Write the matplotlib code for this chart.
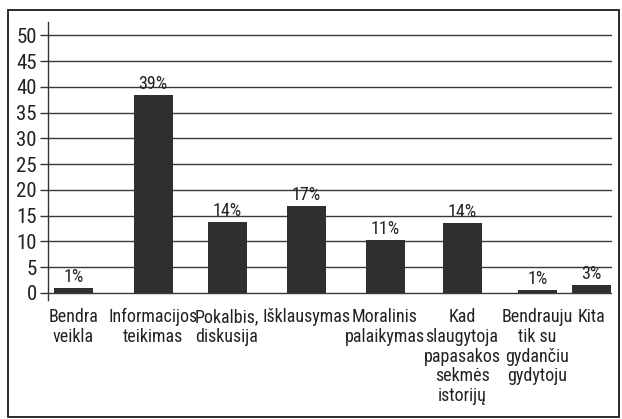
import matplotlib
matplotlib.use("Agg")
import matplotlib.pyplot as plt
from matplotlib.patches import Rectangle
from matplotlib import font_manager

categories = ["Bendra\nveikla", "Informacijos\nteikimas", "Pokalbis,\ndiskusija",
              "Išklausymas", "Moralinis\npalaikymas",
              "Kad\nslaugytoja\npapasakos\nsekmės\nistorijų",
              "Bendrauju\ntik su\ngydančiu\ngydytoju", "Kita"]
values = [0.9, 38.5, 13.7, 16.9, 10.3, 13.6, 0.6, 1.5]
value_labels = ["1%", "39%", "14%", "17%", "11%", "14%", "1%", "3%"]
y_ticks = [0, 5, 10, 15, 20, 25, 30, 35, 40, 45, 50]

# horizontal placement of the category slots (axis units)
positions = [25.5, 105, 179, 258, 337, 414, 489.5, 543.5]

# look for a condensed / narrow regular face
cands = []
for f in font_manager.fontManager.ttflist:
    n = f.name.lower()
    fn = f.fname.lower()
    cond = ("narrow" in n or "condensed" in n or "condensed" in fn or "narrow" in fn
            or str(f.stretch) in ("condensed", "semi-condensed", "extra-condensed"))
    if cond and f.style == "normal" and f.weight in (400, "normal", "regular") \
            and "mono" not in n and "cjk" not in n and "bold" not in fn and "light" not in fn:
        cands.append(f)
prio = ["roboto", "liberation", "open", "noto", "dejavu"]
cands.sort(key=lambda f: next((i for i, p in enumerate(prio) if p in f.name.lower()), 9))
if cands:
    fp_path = cands[0].fname
    scale = 1.0
else:
    fp_path = None
    scale = 0.82

def FP(size):
    if fp_path:
        return font_manager.FontProperties(fname=fp_path, size=size)
    return font_manager.FontProperties(family=["Liberation Sans", "DejaVu Sans"], size=size * scale)

W, H = 622, 419
fig = plt.figure(figsize=(W / 100, H / 100), dpi=100)

# outer frame
fig.patches.append(Rectangle((8 / W, 1 - 417 / H), 611 / W, 407 / H,
                             transform=fig.transFigure, fill=False,
                             edgecolor="#1a1a1a", linewidth=1.3))

ax = fig.add_axes([48 / W, 1 - 300 / H, 564 / W, 278 / H])
ax.set_xlim(0, 564)
ax.set_ylim(-1.4, 52.6)

for t in y_ticks:
    ax.axhline(t, color="#3a3a3a", linewidth=1.0, zorder=1)

ax.bar(positions, values, width=39, color="#2f2f2f", zorder=2)

for x, v, lab in zip(positions, values, value_labels):
    ax.annotate(lab, (x, v), xytext=(0, 1.5), textcoords="offset points",
                ha="center", va="bottom", fontproperties=FP(13), color="#222222")

ax.set_yticks(y_ticks)
ax.set_yticklabels([str(t) for t in y_ticks], color="#222222")
for lbl in ax.get_yticklabels():
    lbl.set_fontproperties(FP(15))
ax.set_xticks(positions)
ax.set_xticklabels(categories, color="#222222", linespacing=1.12)
for lbl in ax.get_xticklabels():
    lbl.set_fontproperties(FP(13))
ax.tick_params(axis="x", length=0, pad=6)
ax.tick_params(axis="y", length=6, width=1, color="#333333", pad=2)

for s in ["top", "right", "bottom"]:
    ax.spines[s].set_visible(False)
ax.spines["left"].set_color("#333333")
ax.spines["left"].set_linewidth(1.0)

fig.savefig("out.png", dpi=100)
